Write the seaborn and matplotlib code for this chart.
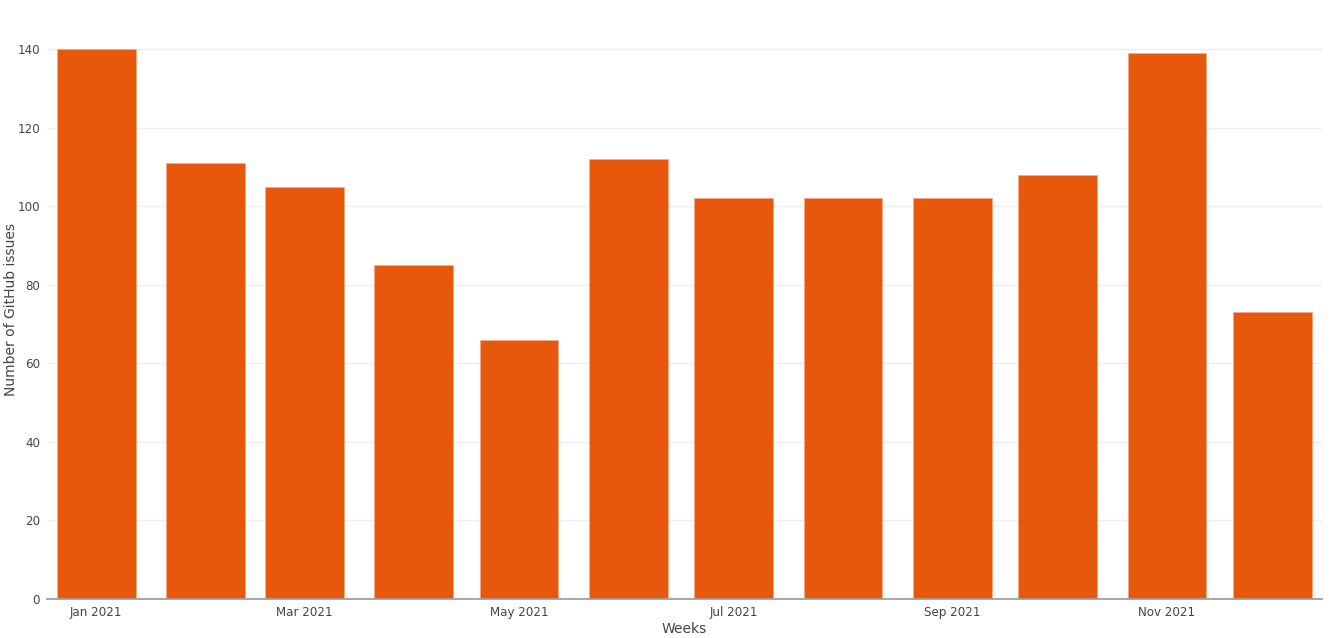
import pandas as pd
import numpy as np
import matplotlib
matplotlib.use("Agg")
import matplotlib.pyplot as plt
import matplotlib.dates as mdates
import seaborn as sns

months = pd.date_range("2021-01-01", periods=12, freq="MS")
issues = [140, 111, 105, 85, 66, 112, 102, 102, 102, 108, 139, 73]
tick_months = ["2021-01-01", "2021-03-01", "2021-05-01", "2021-07-01", "2021-09-01", "2021-11-01"]
tick_labels = ["Jan 2021", "Mar 2021", "May 2021", "Jul 2021", "Sep 2021", "Nov 2021"]

df = pd.DataFrame({"month": mdates.date2num(months), "issues": issues})

sns.set_style("white")
plt.rcParams["font.family"] = ["DejaVu Sans"]

fig = plt.figure(figsize=(13.32, 6.38), dpi=100)
ax = fig.add_axes([0.0353, 0.0611, 0.9572, 0.9076])

sns.barplot(data=df, x="month", y="issues", native_scale=True, width=0.8,
            color="#E8580C", saturation=1, edgecolor="#F4AC85", linewidth=0.5, ax=ax)

ax.set_xlim(df["month"].min() - 14, df["month"].max() + 14)
ax.set_ylim(0, 147.4)
ax.set_yticks(np.arange(0, 141, 20))
ax.set_xticks(mdates.date2num(pd.to_datetime(tick_months)))
ax.set_xticklabels(tick_labels)

ax.grid(axis="y", color="#EEEEEE", linewidth=1)
ax.set_axisbelow(True)
for s in ["top", "right", "left"]:
    ax.spines[s].set_visible(False)
ax.spines["bottom"].set_color("#A0A0A0")
ax.spines["bottom"].set_linewidth(1.3)
ax.tick_params(axis="both", length=0, labelsize=8.6, colors="#444444", pad=5)

ax.set_xlabel("")
ax.set_ylabel("")
fig.text(684 / 1332, 1 - 629 / 638, "Weeks", fontsize=10, color="#444444",
         ha="center", va="center")
fig.text(11 / 1332, 1 - 309 / 638, "Number of GitHub issues", fontsize=10,
         color="#444444", ha="center", va="center", rotation=90)

fig.savefig("out.png", dpi=100)
